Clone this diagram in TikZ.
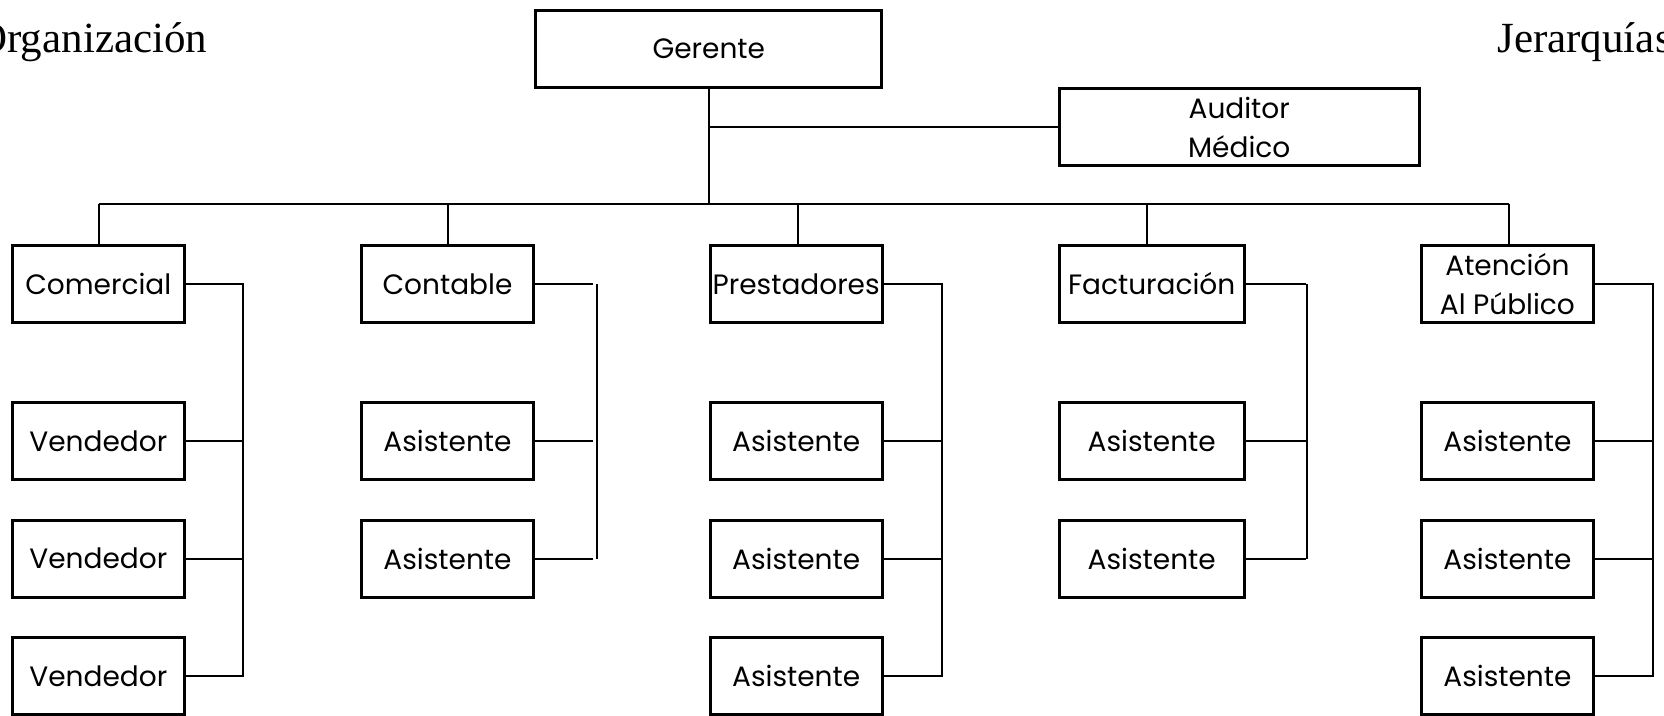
\documentclass[tikz,border=0pt]{standalone}
\usepackage{fontspec}
\setmainfont{Liberation Serif}
\newfontfamily\boxfont{Poppins}
\begin{document}
\begin{tikzpicture}[x=0.5pt,y=-0.5pt,
  orgbox/.style={draw, line width=1.5pt, inner sep=0pt, minimum height=38.5pt, minimum width=86pt, align=center, font=\boxfont\fontsize{14}{19.5}\selectfont},
  widebox/.style={orgbox, minimum width=92.5pt},
  link/.style={line width=0.9pt},
  audlink/.style={line width=1.4pt},
  titletext/.style={font=\fontsize{21.5}{26}\selectfont, inner sep=0pt, anchor=base west}]
\useasboundingbox (0,0) rectangle (1664,716);
% titles
\node[titletext] (torg) at (-24,52.5) {Organización};
\node[titletext] (tjer) at (1497,52.5) {Jerarquías};
% top
\node[orgbox, minimum width=173pt] (ger) at (708.8,48.8) {Gerente};
\node[orgbox, minimum width=180pt] (aud) at (1239.2,127) {Auditor\\Médico};
% row 1
\node[orgbox] (com) at (98.3,284) {Comercial};
\node[orgbox] (con) at (447.5,284) {Contable};
\node[orgbox] (pre) at (796.2,284) {Prestadores};
\node[widebox] (fac) at (1151.7,284) {Facturación};
\node[orgbox] (ate) at (1507.4,284) {Atención\\Al Público};
% column 1
\node[orgbox] (v1) at (98.3,441) {Vendedor};
\node[orgbox] (v2) at (98.3,558.7) {Vendedor};
\node[orgbox] (v3) at (98.3,676) {Vendedor};
% column 2
\node[orgbox] (c1) at (447.5,441) {Asistente};
\node[orgbox] (c2) at (447.5,558.7) {Asistente};
% column 3
\node[orgbox] (p1) at (796.2,441) {Asistente};
\node[orgbox] (p2) at (796.2,558.7) {Asistente};
\node[orgbox] (p3) at (796.2,676) {Asistente};
% column 4
\node[widebox] (f1) at (1151.7,441) {Asistente};
\node[widebox] (f2) at (1151.7,558.7) {Asistente};
% column 5
\node[orgbox] (a1) at (1507.4,441) {Asistente};
\node[orgbox] (a2) at (1507.4,558.7) {Asistente};
\node[orgbox] (a3) at (1507.4,676) {Asistente};
% bus
\coordinate (d1) at (99.3,204.3);
\coordinate (d2) at (448.3,204.3);
\coordinate (d3) at (797.7,204.3);
\coordinate (d4) at (1146.7,204.3);
\coordinate (d5) at (1509,204.3);
\draw[link] (d1) -- (d5);
\draw[link] (ger.south) -- (ger.south |- d1);
\draw[audlink] (ger.south |- aud.west) -- (aud.west);
\draw[link] (d1) -- (d1 |- com.north);
\draw[link] (d2) -- (d2 |- con.north);
\draw[link] (d3) -- (d3 |- pre.north);
\draw[link] (d4) -- (d4 |- fac.north);
\draw[link] (d5) -- (d5 |- ate.north);
% trunks
\coordinate (k1) at (243.3,0);
\coordinate (h2) at (593.3,0);
\coordinate (k2) at (597.3,0);
\coordinate (k3) at (941.7,0);
\coordinate (h4) at (1305.5,0);
\coordinate (k4) at (1307.3,0);
\coordinate (k5) at (1653.3,0);
% column 1 links
\draw[link] (com.east) -- (com.east -| k1) -- (v3.east -| k1) -- (v3.east);
\draw[link] (v1.east) -- (v1.east -| k1);
\draw[link] (v2.east) -- (v2.east -| k1);
% column 2 links
\draw[link] (con.east) -- (con.east -| h2);
\draw[link] (c1.east) -- (c1.east -| h2);
\draw[link] (c2.east) -- (c2.east -| h2);
\draw[link] (con.east -| k2) -- (c2.east -| k2);
% column 3 links
\draw[link] (pre.east) -- (pre.east -| k3) -- (p3.east -| k3) -- (p3.east);
\draw[link] (p1.east) -- (p1.east -| k3);
\draw[link] (p2.east) -- (p2.east -| k3);
% column 4 links
\draw[link] (fac.east) -- (fac.east -| h4);
\draw[link] (f1.east) -- (f1.east -| h4);
\draw[link] (f2.east) -- (f2.east -| h4);
\draw[link] (fac.east -| k4) -- (f2.east -| k4);
% column 5 links
\draw[link] (ate.east) -- (ate.east -| k5) -- (a3.east -| k5) -- (a3.east);
\draw[link] (a1.east) -- (a1.east -| k5);
\draw[link] (a2.east) -- (a2.east -| k5);
\end{tikzpicture}
\end{document}
